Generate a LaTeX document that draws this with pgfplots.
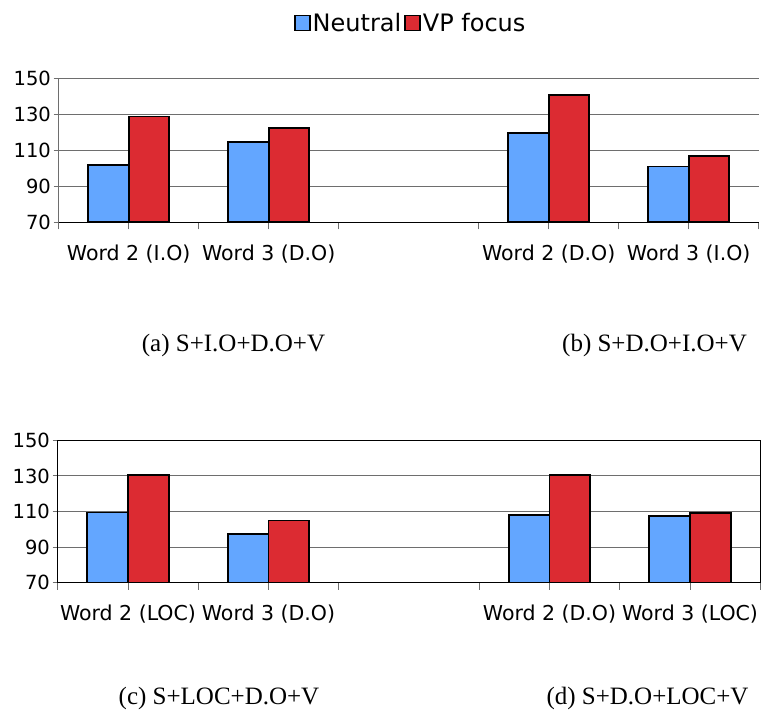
\documentclass[border=0pt]{standalone}
\usepackage{fontspec}
\setmainfont{DejaVu Sans}
\newfontfamily\capfont{Liberation Serif}
\usepackage{pgfplots}
\pgfplotsset{compat=1.18}

\definecolor{neutralblue}{RGB}{99,166,255}
\definecolor{vpred}{RGB}{220,43,50}
\definecolor{gridgray}{RGB}{110,110,110}

\pgfplotsset{
  panel/.style={
    scale only axis,
    anchor=south west,
    ybar, bar width=0.29,
    xmin=-0.5, xmax=4.5,
    ymin=70, ymax=150,
    ytick={70,90,...,150},
    xtick={-0.5,0.5,...,4.5},
    xticklabels={},
    extra x ticks={0,1,3,4},
    extra x tick style={major tick length=0pt, grid=none,
      tick label style={yshift=-19pt, font=\fontsize{20.5}{24}\selectfont}},
    ymajorgrids,
    major grid style={gridgray, line width=0.9pt},
    tick align=outside,
    tick pos=left,
    xtick style={/pgfplots/major tick length=7pt, gridgray, line width=0.9pt},
    ytick style={/pgfplots/major tick length=5pt, gridgray, line width=0.9pt},
    tick label style={font=\fontsize{19.5}{23}\selectfont},
    /pgf/number format/assume math mode=true,
    legend image code/.code={\draw[##1, draw=black, line width=1.6pt] (0pt,-7.5pt) rectangle (15pt,7.5pt);},
  },
  neutral/.style={fill=neutralblue, draw=black, line width=1.7pt, bar shift=-0.145},
  vp/.style={fill=vpred, draw=black, line width=1.7pt, bar shift=0.145},
}

\begin{document}
\begin{tikzpicture}
\useasboundingbox (0pt,0pt) rectangle (768pt,-721pt);

% top panel: (a) and (b)
\begin{axis}[panel,
  at={(58.7pt,-222.3pt)}, width=700pt, height=144.3pt,
  axis x line*=bottom, axis y line*=left,
  x axis line style={black, line width=1.5pt},
  y axis line style={gridgray, line width=0.9pt},
  extra x tick labels={Word 2 (I.O),Word 3 (D.O),Word 2 (D.O),Word 3 (I.O)},
  legend style={at={(0.503,1.381)}, anchor=center, draw=none, fill=none,
    legend columns=2, font=\fontsize{24}{28}\selectfont,
    /tikz/every even column/.append style={column sep=1pt}},
]
\addplot[neutral] coordinates {(0,101.9) (1,114.4) (3,119.6) (4,101.0)};
\addplot[vp] coordinates {(0,128.7) (1,122.4) (3,140.6) (4,106.9)};
\legend{Neutral,VP focus}
\end{axis}

% bottom panel: (c) and (d)
\begin{axis}[panel,
  at={(57.7pt,-582.7pt)}, width=702.6pt, height=142.4pt,
  axis line style={black, line width=1.5pt},
  extra x tick labels={Word 2 (LOC),Word 3 (D.O),Word 2 (D.O),Word 3 (LOC)},
]
\addplot[neutral] coordinates {(0,109.5) (1,97.3) (3,107.9) (4,107.5)};
\addplot[vp] coordinates {(0,130.4) (1,105.0) (3,130.4) (4,109.0)};
\end{axis}

\begin{scope}[every node/.style={font=\capfont\fontsize{25}{30}\selectfont}]
\node at (233.5pt,-345pt) {(a) S+I.O+D.O+V};
\node at (654.5pt,-345pt) {(b) S+D.O+I.O+V};
\node at (219pt,-698pt) {(c) S+LOC+D.O+V};
\node at (647.5pt,-698pt) {(d) S+D.O+LOC+V};
\end{scope}
\end{tikzpicture}
\end{document}
